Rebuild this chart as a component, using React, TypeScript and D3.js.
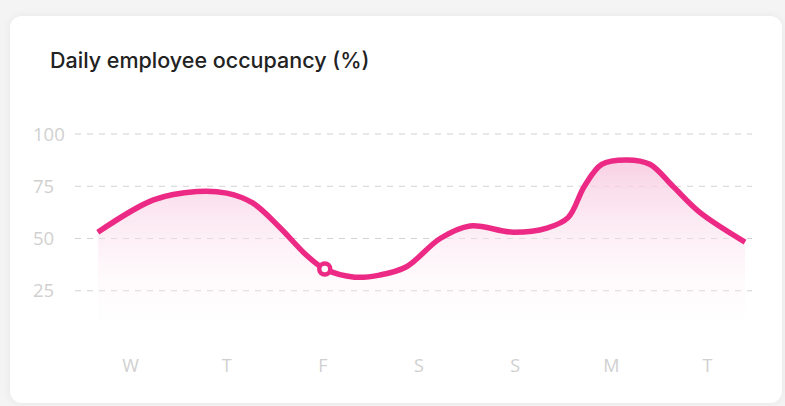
import React from 'react'
import * as d3 from 'd3'

// chart data
const days = ['W', 'T', 'F', 'S', 'S', 'M', 'T']
const yTicks = [25, 50, 75, 100]
// position along the week (0 = W ... 6 = T) and occupancy in %
const pointDay = [-0.34, 0.24, 0.69, 1.0, 1.27, 1.55, 1.83, 2.02, 2.33, 2.59, 2.87, 3.22, 3.53, 3.98, 4.33, 4.55, 4.72, 4.9, 5.16, 5.4, 5.64, 5.92, 6.39]
const pointValue = [53, 68.5, 72.5, 71.7, 67, 55.4, 42, 35.4, 31.5, 32.5, 36.5, 50, 56, 53, 55, 60, 75, 85.5, 87.6, 85.5, 75, 62.5, 48.3]
const markerIndex = 7

const width = 785
const height = 406
const pink = '#ec2a85'

export default function App() {
    const x = d3.scaleLinear().domain([0, 6]).range([130.5, 707.5])
    const y = d3.scaleLinear().domain([0, 100]).range([343, 134])

    const points = pointDay.map((d, i) => ({ d, v: pointValue[i] }))
    const curve = d3.curveCatmullRom.alpha(0.5)

    const line = d3.line<{ d: number, v: number }>()
        .x(p => x(p.d))
        .y(p => y(p.v))
        .curve(curve)

    const area = d3.area<{ d: number, v: number }>()
        .x(p => x(p.d))
        .y0(y(0))
        .y1(p => y(p.v))
        .curve(curve)

    const marker = points[markerIndex]

    return (
        <svg width={width} height={height} style={{ position: 'absolute', left: 0, top: 0 }}
            fontFamily="Inter, 'Noto Sans', sans-serif">
            <defs>
                <linearGradient id="fillGrad" gradientUnits="userSpaceOnUse" x1="0" y1={y(90)} x2="0" y2={y(0)}>
                    <stop offset="0" stopColor="#f7c8df" stopOpacity={0.9} />
                    <stop offset="1" stopColor="#ffffff" stopOpacity={0} />
                </linearGradient>
                <filter id="shadow" x="-5%" y="-5%" width="110%" height="110%">
                    <feDropShadow dx="0" dy="0" stdDeviation="4" floodColor="#000" floodOpacity="0.06" />
                </filter>
            </defs>

            <rect x={0} y={0} width={width} height={height} fill="#f4f4f5" />
            <rect x={10} y={16} width={772} height={387} rx={12} fill="#fff" filter="url(#shadow)" />

            <text x={50} y={68} fontSize={21.5} fontWeight={500} fill="#222">Daily employee occupancy (%)</text>

            {/* grid + y labels */}
            {yTicks.map(t => (
                <g key={t}>
                    <line x1={75} x2={752} y1={y(t)} y2={y(t)} stroke="#d2d2d2" strokeWidth={1.2} strokeDasharray="6 6" />
                    <text x={33} y={y(t)} dy="0.36em" fontSize={18.5} fontFamily="'Open Sans', sans-serif" fill="#d0d0d0">{t}</text>
                </g>
            ))}

            <path d={area(points) ?? ''} fill="url(#fillGrad)" />
            <path d={line(points) ?? ''} fill="none" stroke={pink} strokeWidth={5.5} strokeLinecap="butt" />

            <circle cx={x(marker.d)} cy={y(marker.v)} r={5.5} fill="#fff" stroke={pink} strokeWidth={4.5} />

            {days.map((d, i) => (
                <text key={i} x={x(i)} y={372} textAnchor="middle" fontSize={18} fontFamily="'Open Sans', sans-serif" fill="#d0d0d0">{d}</text>
            ))}
        </svg>
    )
}
